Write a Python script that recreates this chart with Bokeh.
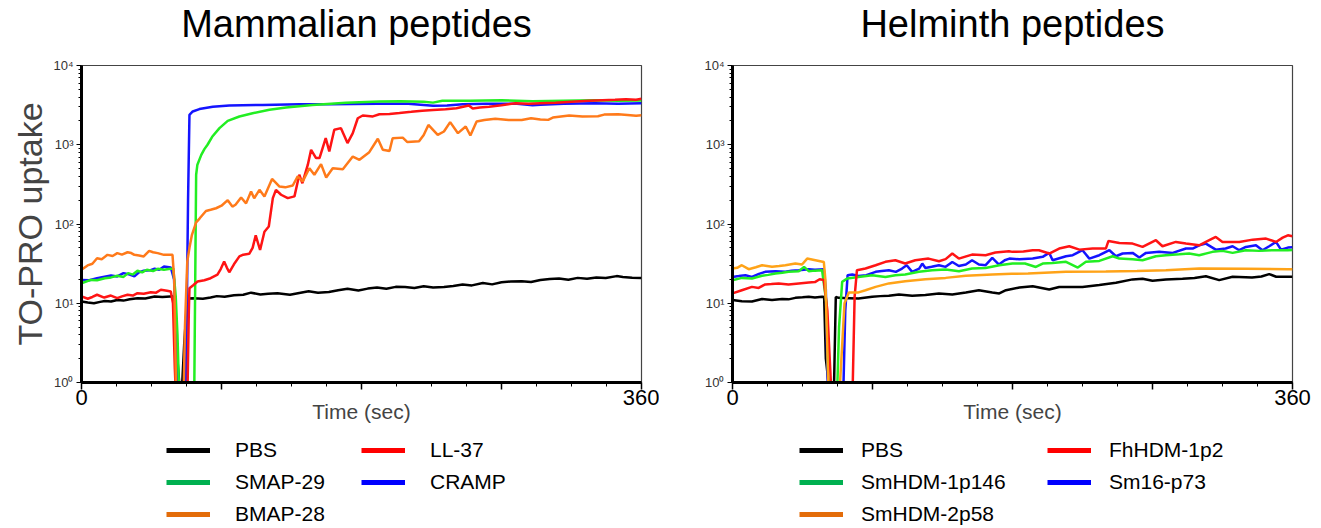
from bokeh.plotting import figure
from bokeh.models import FixedTicker, Legend, LegendItem
from bokeh.layouts import row, column
from bokeh.embed import file_html
from bokeh.resources import INLINE

# ---------------- data ----------------
titles = ["Mammalian peptides", "Helminth peptides"]
y_label = "TO-PRO uptake"
x_label = "Time (sec)"
x_tick_vals = [0, 90, 180, 270, 360]
x_tick_labels = ["0", "", "", "", "360"]
y_tick_vals = [1, 10, 100, 1000, 10000]
y_tick_labels = ["10\u2070", "10\u00b9", "10\u00b2", "10\u00b3", "10\u2074"]

mam_names = ["PBS", "SMAP-29", "BMAP-28", "LL-37", "CRAMP"]
hel_names = ["PBS", "SmHDM-1p146", "SmHDM-2p58", "FhHDM-1p2", "Sm16-p73"]

# Mammalian peptides
m_pbs_t = [0, 4, 8, 12, 15, 19, 23, 27, 31, 36, 41, 47, 52, 57, 59, 60, 62, 64, 66, 68, 72, 78, 83, 87, 92, 98,
           104, 109, 115, 120, 126, 134, 140, 146, 152, 159, 165, 171, 178, 184, 190, 196, 202, 208, 214, 220,
           226, 233, 239, 245, 251, 258, 264, 270, 276, 283, 289, 295, 301, 307, 313, 319, 325, 331, 337, 344,
           348, 354, 360]
m_pbs_v = [10.5, 10.2, 10, 10.4, 10.7, 10.5, 11, 10.8, 11.2, 11.6, 11.5, 12.2, 12, 12.2, 12.2, 6, 1.6, 0.5, 3,
           11.5, 11.6, 11.4, 11.8, 12.3, 12.1, 12.6, 12.8, 13.6, 12.9, 13.2, 13.4, 12.8, 13.5, 14.2, 13.6, 13.9,
           14.6, 15.2, 14.5, 15.3, 15.8, 15.2, 16.1, 16, 15.6, 16.4, 15.8, 16, 16.5, 17.2, 16.8, 18, 17.3, 18.4,
           18.8, 19, 18.5, 19.6, 20.2, 20.5, 19.8, 20.9, 20.4, 21.2, 20.8, 22, 21.5, 21, 20.8]

m_smap_t = [0, 6, 10, 15, 19, 23, 27, 30, 33, 36, 39, 42, 46, 49, 53, 56, 59, 60.6, 61.7, 63, 72.4, 73.7, 74.5,
            77, 79, 81, 84, 88.7, 94, 101.5, 110, 120.8, 131.5, 148.5, 170, 191.5, 205, 220, 226, 232, 250, 270,
            290, 310, 330, 345, 360]
m_smap_v = [17.9, 19.7, 19.5, 20.7, 21.2, 22.2, 21.5, 24, 23, 25.7, 24.5, 26.5, 25.5, 27.2, 26.5, 27, 27.5, 12, 4,
            0.5, 0.5, 418, 560, 745, 880, 1000, 1260, 1620, 2000, 2270, 2500, 2760, 2960, 3180, 3390, 3510, 3550,
            3500, 3400, 3600, 3600, 3650, 3550, 3600, 3650, 3600, 3620]

m_cramp_t = [0, 5, 10, 14, 19, 23, 27, 31, 34, 37, 40, 44, 47, 50, 53, 57.4, 59.5, 61, 62, 67, 68.5, 69.4, 71.5,
             75.8, 84.4, 95, 116.5, 140, 160, 190, 210, 226, 235, 245, 260, 280, 290, 295, 310, 330, 345, 360]
m_cramp_v = [19.7, 19.5, 20.7, 21.5, 22.4, 21.8, 24, 23, 21.8, 24.5, 25.7, 26, 27.2, 26.5, 29, 28.3, 20, 3, 0.5,
             0.5, 200, 2390, 2630, 2820, 3020, 3130, 3180, 3250, 3250, 3300, 3280, 3100, 3130, 3250, 3300, 3300,
             3150, 3200, 3300, 3350, 3300, 3330]

m_ll37_t = [0, 4, 7, 10, 14.6, 18.9, 23, 26, 29.6, 33, 36, 40, 44.6, 48, 51, 55, 57.4, 58.8, 60, 61, 68, 69, 69.4,
            72, 74.6, 79, 83, 87.4, 89.5, 91.7, 93.5, 95, 98, 101.5, 104, 107.8, 110, 112, 114.8, 117.6, 120.4,
            123, 125, 128.3, 132.6, 136.9, 140, 142, 145.5, 147.6, 150.8, 153, 157, 159.3, 162.5, 166.8, 171,
            174.4, 177.6, 180.8, 187.3, 191.5, 198, 204.4, 212, 219, 226, 234, 241, 249, 251.5, 256, 262, 270,
            279, 287.6, 295, 304.7, 315, 326, 335, 343, 350, 356.5, 360]
m_ll37_v = [12.2, 11.4, 12, 12.8, 11.8, 12.5, 11.6, 12.2, 12.8, 12.5, 13.4, 13.2, 13.8, 13.6, 14.8, 14.4, 14.1, 10,
            1.5, 0.5, 0.5, 8, 15.5, 17, 18.8, 19.5, 20.7, 22.9, 27, 33.6, 28, 24.6, 31, 39, 41, 42, 50, 72, 47, 80,
            93, 212, 270, 234, 212, 223, 418, 327, 560, 863, 680, 680, 1210, 822, 1550, 1620, 1050, 1400, 2160,
            2340, 2280, 2430, 2450, 2510, 2600, 2690, 2750, 2800, 2890, 3130, 2860, 2950, 3020, 3150, 3350, 3280,
            3350, 3400, 3500, 3580, 3650, 3690, 3750, 3700, 3800]

m_bmap_t = [0, 3.9, 7, 10, 13, 16.7, 20, 23, 26, 29.6, 32, 34, 37, 40, 43.5, 46, 49, 53, 56, 58.5, 59.6, 61, 65.5,
            66.5, 68, 69.4, 71, 73.7, 76, 80, 83, 86.5, 90, 94, 97, 99, 102.6, 105.8, 109, 111, 114.4, 117.6,
            122.5, 127.3, 131, 135.8, 139, 142.2, 146.5, 149.7, 154, 157.3, 161.5, 168, 174.4, 178.7, 185, 190.5,
            193.7, 198, 200, 206.5, 209.5, 217, 220, 223, 229, 233, 237, 242, 247, 250, 254, 259, 266, 274.6, 283,
            289, 295, 300, 303, 313.5, 322, 332, 336, 345, 351, 356.5, 360]
m_bmap_v = [26.5, 30, 31.5, 37, 36, 40.8, 39.5, 42.9, 41, 44, 43, 40.8, 40, 39, 45.9, 44, 42.9, 40.8, 41, 40.8, 20,
            0.5, 0.5, 5, 33.6, 50, 73, 105, 118, 146, 151, 158, 170, 200, 166, 175, 216, 182, 257, 211, 270, 222,
            370, 297, 290, 306, 398, 345, 505, 418, 569, 386, 505, 490, 710, 646, 806, 1190, 863, 833, 1210, 1230,
            1080, 1110, 1330, 1780, 1330, 1470, 1930, 1400, 1700, 1310, 1960, 2050, 2130, 2050, 2050, 2160, 2080,
            2060, 2200, 2340, 2280, 2290, 2400, 2430, 2380, 2320, 2350]

# Helminth peptides
h_pbs_t = [0, 6, 12.5, 19, 25.4, 31.9, 36, 40.4, 45, 49, 53, 57.6, 58.9, 60, 63.4, 65, 66.4, 68.3, 75, 81, 89.8,
           95, 100.5, 107, 115.5, 124, 132.7, 141.3, 150, 158.4, 167, 171.5, 175.8, 184.4, 193, 203.6, 210, 225,
           235.8, 246.5, 257.2, 263.6, 270, 278.6, 289.3, 297, 304.3, 312.9, 321.5, 334, 340, 345, 349.5, 357, 360]
h_pbs_v = [11, 10.6, 10.5, 11.3, 11, 11.3, 11.2, 11.7, 11.9, 12.1, 11.8, 12.1, 12, 2, 0.5, 0.5, 12, 11.7, 11.6,
           11.5, 12.1, 12.3, 12.4, 12.9, 12.4, 12.7, 13.3, 12.9, 13.7, 14.6, 13.7, 13.3, 14.6, 15.8, 16.4, 14.9,
           16, 16, 17, 18.1, 20, 20.4, 19.2, 20, 20.4, 20.8, 21.9, 19.6, 21.6, 21.2, 21.8, 23.3, 21.6, 21.6, 21.6]

h_1p146_t = [0, 6, 12.5, 19, 23, 27.6, 32, 36, 42.6, 46, 49, 53, 57.6, 60.4, 62, 67, 68.5, 70.5, 73.7, 81, 89.8,
             98.3, 104.7, 111, 119.8, 128.3, 137, 145.6, 154, 162.7, 171.5, 180, 188, 195, 199.4, 205.8, 214.4, 222,
             227.2, 235.8, 244.4, 248.7, 257.2, 263.6, 272.2, 278.6, 287.2, 293.6, 300, 308.6, 315, 321.5, 330,
             338.6, 347.2, 357, 360]
h_1p146_v = [19.5, 20.9, 20.5, 22.2, 22.8, 23.7, 24.2, 24.9, 25.4, 28.8, 25.4, 25.8, 26.1, 10, 0.5, 0.5, 5, 18.6,
             20.5, 21.5, 22.6, 21.5, 22.6, 23.1, 24.9, 26.1, 26.6, 25.4, 27.4, 27.9, 30.2, 31.7, 31.7, 28.7, 31.7,
             32.3, 33.3, 28.2, 33.3, 34.2, 39.2, 36.6, 35.8, 34.9, 39.2, 40.4, 41.5, 42.4, 40.4, 44.5, 45.8, 43.2,
             46.7, 45.8, 46.7, 46.7, 47]

h_2p58_t = [0, 3, 6, 10.4, 15, 19, 25.4, 30, 34, 40.4, 44.7, 48, 53.3, 58.7, 59.7, 62, 68.3, 72, 74.8, 81, 85.5,
            92, 100.5, 111, 124, 137, 150, 167, 179.4, 190, 214.4, 240, 260, 278.6, 300, 330, 357, 360]
h_2p58_v = [27.4, 28, 30.2, 26.9, 28.5, 30.2, 28.8, 29.5, 30.2, 31.7, 30.8, 36.6, 34.9, 33.2, 20, 0.5, 0.5, 10,
            13.7, 13.7, 14.6, 16.1, 17.8, 19, 20.1, 20.9, 22.2, 23, 23.5, 23.8, 24.9, 25.2, 25.5, 26.1, 27.4, 27.2,
            26.9, 26.9]

h_1p2_t = [0, 6, 12.5, 16.8, 21, 25, 29.7, 36, 42.6, 49, 53, 56, 58.7, 61, 64, 77, 78.5, 80, 85.5, 92, 98.3,
           104.7, 111, 117.5, 126, 132.7, 137, 141.3, 145.5, 154, 162.7, 169, 177.7, 180, 187, 193, 197, 203.6,
           210, 216.5, 223, 231.5, 240, 241.7, 248.7, 257.2, 263.6, 272.2, 276.4, 285, 291.5, 300, 306.5, 310.7,
           315, 325.8, 334.4, 343, 349.4, 353.7, 357, 360]
h_1p2_v = [13.3, 14.6, 16.1, 15.6, 17.3, 17.5, 17.8, 17.3, 17.8, 18.3, 18.5, 20.1, 19.7, 8, 0.5, 0.5, 12, 26.1,
           27.4, 30.2, 33.3, 34.9, 31.7, 34.9, 36.6, 33.9, 36, 42.4, 36.6, 41.1, 40.4, 43.6, 45.3, 44.5, 45, 46.7,
           46.7, 42.4, 49, 52.4, 47.5, 49, 49, 61.1, 57.6, 56.6, 51.4, 62.4, 52.4, 59.4, 56.6, 53.8, 62.4, 68.6,
           59.4, 59.4, 63.5, 65.4, 59.4, 67.3, 72, 70]

h_p73_t = [0, 4, 8.3, 12.5, 17, 21, 27.6, 34, 38, 42.6, 49, 53, 58.7, 60, 61.5, 71, 72.5, 74, 77, 81, 86, 92, 96,
           100.5, 105, 109, 112, 115.5, 120, 122, 124, 128, 132.7, 137, 141.3, 145.5, 150, 154, 158.4, 162.7, 167,
           171.3, 175, 178, 184.4, 193, 199.4, 203.6, 205.8, 214.4, 218.7, 225, 229.4, 235.8, 242.3, 246.5, 250.8,
           257.2, 261.5, 265.8, 274.3, 283, 291.5, 295.8, 300, 304.3, 310.7, 317, 321.5, 325.8, 330, 336.5, 340.7,
           345, 349.4, 352.6, 357, 360]
h_p73_v = [21.5, 22, 22.6, 21.5, 23.5, 24.9, 25.4, 24.9, 25.8, 26.1, 26.9, 26.5, 26.9, 15, 0.5, 0.5, 8, 22.6, 23.1,
           22.1, 22.6, 24.9, 25.5, 26.1, 24.9, 27.4, 30.2, 24.9, 27.4, 31.7, 27.8, 28.8, 30.2, 28.8, 33.2, 29.5,
           30.8, 34.9, 30.8, 30.2, 37.3, 30.8, 34.9, 36.6, 35.8, 36.6, 38.5, 43.2, 34.9, 39.2, 40.4, 46.7, 36.6,
           40.4, 46.7, 39.2, 42.4, 43.2, 37.7, 43.2, 44.5, 43.2, 49, 49, 53.8, 56.6, 47.5, 49, 52.4, 46.7, 51.4,
           53.8, 46.7, 52.4, 59.4, 47.5, 50.4, 51]

# line colours (plot) and legend colours
mam_line_colors = ["#000000", "#22ee22", "#ff7a1a", "#ff1414", "#1414ff"]
hel_line_colors = ["#000000", "#22ee22", "#ffa318", "#ff1414", "#1414ff"]
legend_colors = ["#000000", "#00b050", "#e36c09", "#ff0000", "#0000ff"]

mam_series = [(m_pbs_t, m_pbs_v), (m_smap_t, m_smap_v), (m_bmap_t, m_bmap_v), (m_ll37_t, m_ll37_v),
              (m_cramp_t, m_cramp_v)]
hel_series = [(h_pbs_t, h_pbs_v), (h_1p146_t, h_1p146_v), (h_2p58_t, h_2p58_v), (h_1p2_t, h_1p2_v),
              (h_p73_t, h_p73_v)]

FONT = "Liberation Sans"
draw_order = [0, 4, 1, 3, 2]


def bare_figure(border_left, border_right, frame_height, **kw):
    f = figure(frame_width=560, frame_height=frame_height, x_range=(-2, -1), y_range=(-2, -1),
               x_axis_location=None, y_axis_location=None, output_backend="svg", toolbar_location=None,
               min_border_left=border_left, min_border_right=border_right, min_border_top=0,
               min_border_bottom=0, background_fill_color="white", border_fill_color="white", **kw)
    f.outline_line_color = None
    f.xgrid.visible = False
    f.ygrid.visible = False
    return f


def make_title(title, border_left, border_right):
    tf = bare_figure(border_left, border_right, 1)
    tf.title.text = title
    tf.title.align = "center"
    tf.title.text_font = FONT
    tf.title.text_font_size = "38px"
    tf.title.text_font_style = "normal"
    tf.title.text_color = "#000000"
    tf.title.standoff = 0
    return tf


def make_panel(series, line_colors, ylabel, border_left, border_right):
    p = figure(frame_width=560, frame_height=317, x_range=(0, 360), y_range=(1, 10000),
               y_axis_type="log", output_backend="svg", toolbar_location=None,
               min_border_left=border_left, min_border_right=border_right, min_border_top=20,
               min_border_bottom=48, background_fill_color="white", border_fill_color="white")
    p.xgrid.visible = False
    p.ygrid.visible = False
    p.outline_line_color = "#444444"
    p.outline_line_width = 1.2

    xa = p.xaxis[0]
    xa.ticker = FixedTicker(ticks=x_tick_vals, minor_ticks=[22.5 * k for k in range(17)])
    xa.major_label_overrides = {v: s for v, s in zip(x_tick_vals, x_tick_labels)}
    xa.axis_line_width = 3
    xa.axis_line_color = "black"
    xa.major_tick_in = 0
    xa.major_tick_out = 7
    xa.minor_tick_in = 0
    xa.minor_tick_out = 4
    xa.major_tick_line_width = 1.5
    xa.major_label_text_font = FONT
    xa.major_label_text_font_size = "22px"
    xa.major_label_text_color = "#000000"
    xa.major_label_standoff = 0
    xa.axis_label = x_label
    xa.axis_label_text_font = FONT
    xa.axis_label_text_font_size = "21px"
    xa.axis_label_text_font_style = "normal"
    xa.axis_label_standoff = -8

    ya = p.yaxis[0]
    ya.ticker = FixedTicker(ticks=y_tick_vals,
                            minor_ticks=[m * 10 ** k for k in range(4) for m in range(2, 10)])
    ya.major_label_overrides = {v: s for v, s in zip(y_tick_vals, y_tick_labels)}
    ya.axis_line_width = 3
    ya.axis_line_color = "black"
    ya.major_tick_in = 0
    ya.major_tick_out = 5
    ya.minor_tick_in = 0
    ya.minor_tick_out = 3
    ya.major_label_text_font = FONT
    ya.major_label_text_font_size = "13px"
    ya.major_label_text_color = "#333333"
    ya.major_label_standoff = 3
    if ylabel:
        ya.axis_label = ylabel
        ya.axis_label_text_font = FONT
        ya.axis_label_text_font_size = "34px"
        ya.axis_label_text_font_style = "normal"
        ya.axis_label_standoff = 1

    for i in draw_order:
        t, v = series[i]
        p.line(t, v, line_color=line_colors[i], line_width=2.5)
    return p


def make_legend(names, series, border_left, border_right, loc_x, standoff, label_width):
    # series drawn outside this figure's ranges, so only their legend glyphs are visible
    lf = bare_figure(border_left, border_right, 96)
    items = []
    for name, col, (t, v) in zip(names, legend_colors, series):
        r = lf.line(t, v, line_color=col, line_width=5)
        items.append(LegendItem(label=name, renderers=[r]))
    leg = Legend(items=items, orientation="vertical", nrows=3, location=(loc_x, 0),
                 glyph_width=44, glyph_height=22, label_height=22, label_width=label_width,
                 label_standoff=standoff, spacing=8, padding=0, margin=0,
                 label_text_font=FONT, label_text_font_size="21px", label_text_color="#000000",
                 border_line_alpha=0, background_fill_alpha=0)
    lf.add_layout(leg, "center")
    return lf


t1 = make_title(titles[0], 76, 23)
t2 = make_title(titles[1], 73, 19)
p1 = make_panel(mam_series, mam_line_colors, y_label, 81, 18)
p2 = make_panel(hel_series, hel_line_colors, None, 73, 19)
l1 = make_legend(mam_names, mam_series, 81, 18, 85, 25, 118)
l2 = make_legend(hel_names, hel_series, 73, 19, 67, 18, 178)

layout = column(row(t1, t2), row(p1, p2), row(l1, l2))
open("out.html", "w").write(file_html(layout, INLINE))
